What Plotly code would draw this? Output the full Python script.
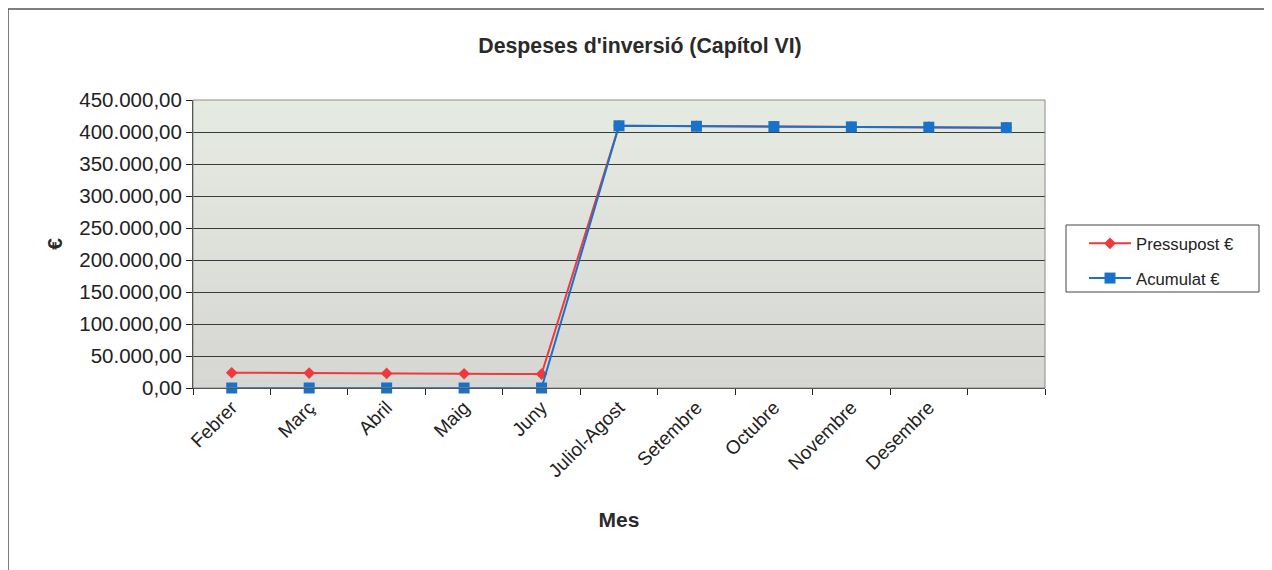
import plotly.graph_objects as go

categories = ["Febrer", "Març", "Abril", "Maig", "Juny", "Juliol-Agost",
              "Setembre", "Octubre", "Novembre", "Desembre", " "]
pressupost = [23800, 23300, 22800, 22300, 21700, 409700, 409000, 408500, 408000, 407500, 406800]
acumulat = [0, 0, 0, 0, 0, 409700, 409000, 408500, 408000, 407500, 406800]
y_ticks = [0, 50000, 100000, 150000, 200000, 250000, 300000, 350000, 400000, 450000]
y_tick_labels = ["0,00", "50.000,00", "100.000,00", "150.000,00", "200.000,00",
                 "250.000,00", "300.000,00", "350.000,00", "400.000,00", "450.000,00"]

W, H = 1272, 570
OFF = 8  # page offset of the figure
# target plot area in screenshot pixels
PL, PR, PT, PB = 193, 1045, 100, 388
ML, MT = PL - OFF, PT - OFF
MR, MB = W - (PR - OFF), H - (PB - OFF)
pw, ph = W - ML - MR, H - MT - MB
FONT = "Liberation Sans, Arial, sans-serif"


def px_x(x):
    return (x - PL) / pw


def px_y(y):
    return (PB - y) / ph


fig = go.Figure()
fig.add_trace(go.Scatter(
    x=categories, y=pressupost, name="Pressupost €", mode="lines+markers",
    legendgroup="p", cliponaxis=False,
    line=dict(color="#f0393c", width=2),
    marker=dict(symbol="diamond", size=9, color="#f0393c"),
))
fig.add_trace(go.Scatter(
    x=categories, y=acumulat, name="Acumulat €", mode="lines+markers",
    legendgroup="a", cliponaxis=False,
    line=dict(color="#1a72c8", width=2),
    marker=dict(symbol="square", size=11, color="#1a72c8"),
))

# gradient plot background
shapes = []
n = 30
top = (230, 235, 226)
bot = (214, 214, 211)
for i in range(n):
    t = i / (n - 1)
    c = tuple(round(top[k] + (bot[k] - top[k]) * t) for k in range(3))
    shapes.append(dict(type="rect", xref="x domain", yref="y domain",
                       x0=0, x1=1, y0=1 - (i + 1) / n, y1=1 - i / n,
                       fillcolor="rgb(%d,%d,%d)" % c, line=dict(width=0), layer="below"))
# plot area border (top/right)
shapes.append(dict(type="rect", xref="x domain", yref="y domain", x0=0, x1=1, y0=0, y1=1,
                   line=dict(color="#8a8a8a", width=1), fillcolor="rgba(0,0,0,0)", layer="above"))
# outer chart border
shapes.append(dict(type="rect", xref="paper", yref="paper",
                   x0=px_x(8), x1=px_x(1271), y0=px_y(585), y1=px_y(9),
                   line=dict(color="#555555", width=1.5), fillcolor="rgba(0,0,0,0)", layer="below"))
# legend frame
shapes.append(dict(type="rect", xref="paper", yref="paper",
                   x0=px_x(1066), x1=px_x(1259), y0=px_y(292), y1=px_y(225),
                   line=dict(color="#444444", width=1), fillcolor="white", layer="below"))

fig.update_layout(
    width=W, height=H,
    margin=dict(l=ML, r=MR, t=MT, b=MB),
    paper_bgcolor="white", plot_bgcolor="#e0e2dd",
    font=dict(family=FONT, color="#222222"),
    title=dict(text="<b>Despeses d'inversió (Capítol VI)</b>", x=(640 - OFF) / W, xanchor="center",
               y=1 - (46 - OFF) / H, yanchor="middle", font=dict(size=21.3, color="#2a2a2a")),
    shapes=shapes,
    showlegend=True,
    legend=dict(x=px_x(1084), xanchor="left", y=px_y(226), yanchor="top",
                bgcolor="rgba(0,0,0,0)", borderwidth=0,
                font=dict(size=16.7, color="#222222"), tracegroupgap=10,
                itemwidth=42),
)
fig.update_xaxes(
    type="category", categoryorder="array", categoryarray=categories,
    range=[-0.5, len(categories) - 0.5],
    tickangle=-45, tickfont=dict(size=19, color="#222222"),
    showgrid=False, showline=True, linecolor="#222222", linewidth=1,
    ticks="outside", tickson="boundaries", ticklen=6, tickcolor="#222222",
    title=dict(text="<b>Mes</b>", font=dict(size=21, color="#2a2a2a"), standoff=32),
    zeroline=False,
)
fig.update_yaxes(
    range=[0, 450000], tickvals=y_ticks, ticktext=y_tick_labels,
    tickfont=dict(size=20.5, color="#222222"),
    showgrid=True, gridcolor="#3a3a3a", gridwidth=1,
    showline=True, linecolor="#222222", linewidth=1,
    ticks="outside", ticklen=6, tickcolor="#222222",
    title=dict(text="<b>€</b>", font=dict(size=21, color="#2a2a2a"), standoff=10),
    zeroline=False,
)

fig.write_html("out.html")
